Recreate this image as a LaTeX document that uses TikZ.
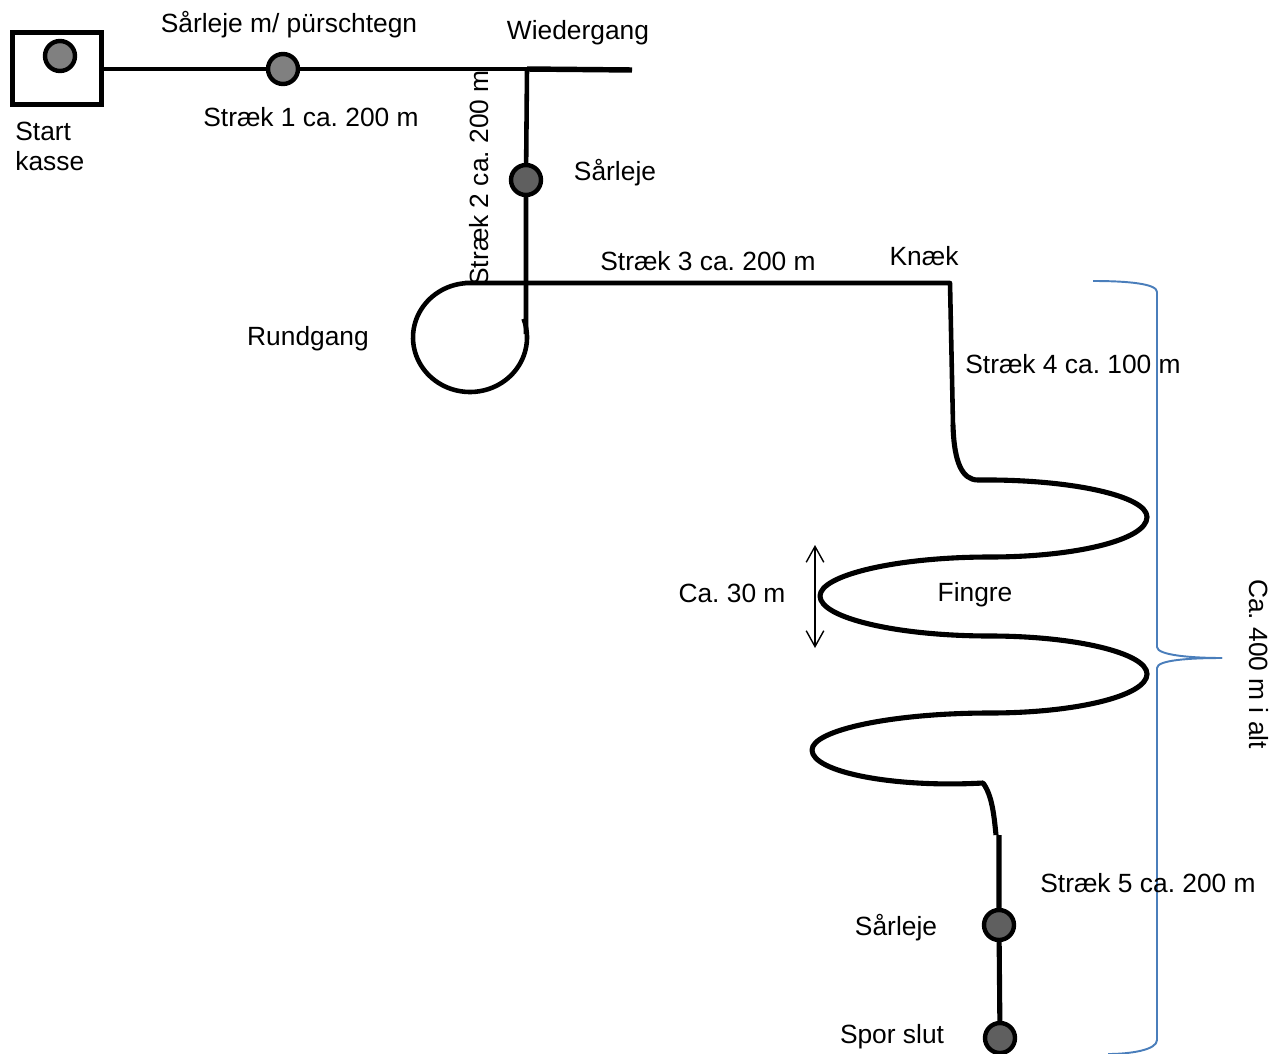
\documentclass[tikz,border=0pt]{standalone}
\usepackage{fontspec}
\setmainfont{Liberation Sans}
\usetikzlibrary{arrows.meta}
\definecolor{bracecol}{RGB}{74,126,187}
\definecolor{lightdot}{RGB}{128,128,128}
\definecolor{darkdot}{RGB}{95,95,95}
\frenchspacing
\begin{document}
\begin{tikzpicture}[x=0.02cm,y=-0.02cm,
  trail/.style={line width=2.6pt,line join=round},
  fingertrail/.style={line width=2.9pt,line join=round},
  dotnode/.style={circle,draw,line width=2.5pt,minimum size=0.6cm,inner sep=0pt},
  lbl/.style={font=\fontsize{15}{17}\selectfont,inner sep=0pt},
  bracestyle/.style={draw=bracecol,line width=1.1pt},
  dimarrow/.style={line width=0.8pt,{Straight Barb[length=9pt,width=10pt]}-{Straight Barb[length=9pt,width=10pt]}}]
\useasboundingbox (0,0) rectangle (1277,1054);

% start box
\node[draw,line width=2.6pt,minimum width=1.78cm,minimum height=1.44cm,inner sep=0pt] (box) at (57,68.5) {};
\node[dotnode,fill=lightdot] (d0) at (60,56) {};
\node[dotnode,fill=lightdot] (d1) at (283,69) {};
\node[dotnode,fill=darkdot] (d2) at (526,180) {};
\node[dotnode,fill=darkdot] (d4) at (999,925) {};
\node[dotnode,fill=darkdot] (d5) at (1000,1038) {};

\coordinate (wg) at (527,69);
\coordinate (wgend) at (632,70);
\coordinate (s2end) at (526,334);
\coordinate (loopstart) at (465,283);
\coordinate (knaek) at (950,283);
\coordinate (s4end) at (953,425);
\coordinate (f0) at (978,480);
\coordinate (s5top) at (999,835);

% Straek 1
\draw[trail] (box.east |- 0,69) -- (d1) -- (wg);
% Wiedergang
\draw[line width=3.1pt] (wg) -- (wgend);
% Straek 2
\draw[trail] (wg) -- (d2) -- (s2end);
% Rundgang loop
\draw[trail] plot[domain=95:380,samples=80] ({470+57*cos(\x)},{337.5-54.5*sin(\x)});
% Straek 3 and 4
\draw[trail] (loopstart) -- (knaek) -- (s4end);
\draw[fingertrail] (s4end) .. controls (954,462) and (962,480) .. (f0);
% Fingers
\draw[fingertrail] (f0) .. controls (1071,479) and (1147,496) .. (1147,517)
  .. controls (1147,540) and (1075,557) .. (990,557)
  .. controls (897,557) and (820,575) .. (820,596)
  .. controls (820,618) and (897,636) .. (990,636)
  .. controls (1075,636) and (1147,653) .. (1147,674)
  .. controls (1147,696) and (1075,713) .. (990,713)
  .. controls (893,713) and (812,730) .. (812,750)
  .. controls (812,772) and (893,788) .. (983,783)
  .. controls (992,795) and (994,815) .. (996,835);
% Straek 5
\draw[fingertrail] (s5top) -- (d4) -- (d5);

% dimension arrow
\coordinate (a1) at (815,545);
\coordinate (a2) at (815,648);
\draw[dimarrow] (a1) -- (a2);

% brace
\draw[bracestyle] (1093,281) .. controls (1130,281) and (1157,284) .. (1157,292) -- (1157,647)
  .. controls (1157,655) and (1190,658) .. (1222,658);
\draw[bracestyle] (1222,658) .. controls (1190,658) and (1157,660) .. (1157,668) -- (1157,1040)
  .. controls (1157,1050) and (1130,1054) .. (1108,1054);

% labels
\node[lbl] (t1) at (289,25) {Sårleje m/ pürschtegn};
\node[lbl] (t2) at (311,117) {Stræk 1 ca. 200 m};
\node[lbl,align=left,anchor=west] (t3) at (15,146) {Start\\kasse};
\node[lbl] (t4) at (578,33) {Wiedergang};
\node[lbl] (t5) at (615,173) {Sårleje};
\node[lbl,rotate=90] (t6) at (479,178) {Stræk 2 ca. 200 m};
\node[lbl] (t7) at (708,261) {Stræk 3 ca. 200 m};
\node[lbl] (t8) at (924,256) {Knæk};
\node[lbl] (t9) at (308,339) {Rundgang};
\node[lbl] (t10) at (1073,364) {Stræk 4 ca. 100 m};
\node[lbl] (t11) at (732,593) {Ca. 30 m};
\node[lbl] (t12) at (975,595) {Fingre};
\node[lbl,rotate=-90] (t13) at (1259,664) {Ca. 400 m i alt};
\node[lbl] (t14) at (1148,883) {Stræk 5 ca. 200 m};
\node[lbl] (t15) at (896,928) {Sårleje};
\node[lbl] (t16) at (892,1037) {Spor slut};
\end{tikzpicture}
\end{document}
